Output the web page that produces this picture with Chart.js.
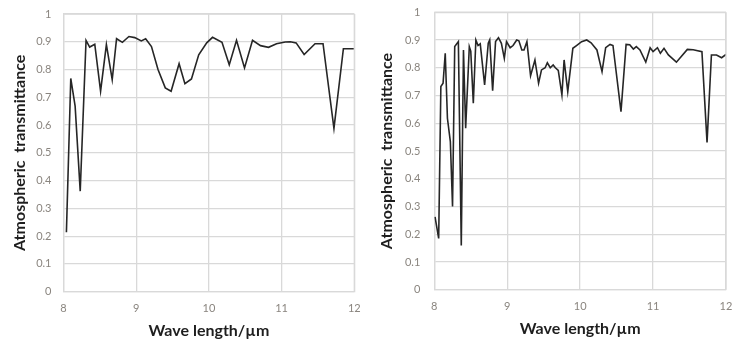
<!DOCTYPE html>
<html>
<head>
<meta charset="utf-8">
<script src="https://cdn.jsdelivr.net/npm/chart.js@4.4.0/dist/chart.umd.min.js"></script>
<style>
  html, body { margin: 0; padding: 0; background: #ffffff; }
  body { width: 734px; height: 345px; position: relative; overflow: hidden; }
  .box { position: absolute; top: 0; width: 367px; height: 345px; }
  #b1 { left: 0; }
  #b2 { left: 367px; }
</style>
</head>
<body>
<div class="box" id="b1"><canvas id="c1" width="367" height="345"></canvas></div>
<div class="box" id="b2"><canvas id="c2" width="367" height="345"></canvas></div>
<script>
// ---- data ----
const xTickLabels = ['8', '9', '10', '11', '12'];
const yTickLabels = ['0', '0.1', '0.2', '0.3', '0.4', '0.5', '0.6', '0.7', '0.8', '0.9', '1'];
const xTitle = 'Wave length/\u00B5m';
const yTitle = 'Atmospheric  transmittance';

// left panel
const wavelengthA = [8.04, 8.10, 8.16, 8.23, 8.31, 8.36, 8.43, 8.51, 8.59, 8.67, 8.73, 8.81, 8.90, 8.98, 9.07, 9.13, 9.21, 9.30, 9.40, 9.48, 9.59, 9.67, 9.76, 9.86, 9.97, 10.05, 10.18, 10.28, 10.38, 10.49, 10.60, 10.71, 10.82, 10.93, 11.05, 11.12, 11.20, 11.31, 11.46, 11.57, 11.72, 11.85, 12.0];
const transmittanceA = [0.214, 0.768, 0.668, 0.362, 0.905, 0.881, 0.891, 0.722, 0.890, 0.764, 0.911, 0.898, 0.919, 0.915, 0.903, 0.911, 0.883, 0.800, 0.734, 0.722, 0.821, 0.749, 0.766, 0.853, 0.896, 0.916, 0.898, 0.817, 0.905, 0.806, 0.905, 0.886, 0.880, 0.893, 0.899, 0.900, 0.896, 0.854, 0.893, 0.893, 0.588, 0.875, 0.875];

// right panel
const wavelengthB = [8.01, 8.06, 8.09, 8.12, 8.15, 8.18, 8.22, 8.25, 8.28, 8.33, 8.37, 8.40, 8.43, 8.48, 8.50, 8.535, 8.57, 8.60, 8.63, 8.69, 8.74, 8.76, 8.80, 8.84, 8.88, 8.92, 8.96, 8.99, 9.04, 9.08, 9.13, 9.16, 9.20, 9.23, 9.27, 9.32, 9.38, 9.43, 9.47, 9.52, 9.55, 9.59, 9.63, 9.66, 9.70, 9.75, 9.78, 9.83, 9.90, 9.95, 10.02, 10.09, 10.15, 10.23, 10.30, 10.35, 10.41, 10.45, 10.56, 10.63, 10.68, 10.73, 10.77, 10.82, 10.90, 10.96, 11.00, 11.06, 11.10, 11.15, 11.21, 11.32, 11.47, 11.55, 11.67, 11.74, 11.80, 11.87, 11.94, 12.0];
const transmittanceB = [0.263, 0.185, 0.732, 0.744, 0.852, 0.618, 0.534, 0.300, 0.876, 0.894, 0.160, 0.864, 0.582, 0.876, 0.860, 0.672, 0.900, 0.880, 0.886, 0.738, 0.888, 0.900, 0.717, 0.894, 0.908, 0.888, 0.834, 0.894, 0.872, 0.880, 0.900, 0.897, 0.864, 0.864, 0.894, 0.771, 0.828, 0.744, 0.792, 0.800, 0.818, 0.800, 0.810, 0.800, 0.790, 0.702, 0.828, 0.714, 0.870, 0.880, 0.894, 0.900, 0.890, 0.864, 0.786, 0.872, 0.884, 0.880, 0.642, 0.884, 0.883, 0.867, 0.876, 0.864, 0.820, 0.872, 0.858, 0.872, 0.852, 0.870, 0.846, 0.820, 0.866, 0.865, 0.858, 0.531, 0.846, 0.846, 0.836, 0.848];

// ---- styling ----
const GRID = '#d9d9d9';
const TICK_COLOR = '#8a857f';
const TITLE_COLOR = '#1e1e1e';
const LINE_COLOR = '#262626';

function makeChart(id, xs, ys, geom) {
  const pts = xs.map((x, i) => ({ x: x, y: ys[i] }));
  return new Chart(document.getElementById(id), {
    type: 'scatter',
    data: {
      datasets: [{
        data: pts,
        showLine: true,
        borderColor: LINE_COLOR,
        borderWidth: 1.6,
        pointRadius: 0,
        tension: 0,
        fill: false
      }]
    },
    options: {
      responsive: false,
      animation: false,
      devicePixelRatio: 1,
      layout: { padding: { left: 0, top: geom.top, right: geom.right, bottom: 0 } },
      plugins: { legend: { display: false }, tooltip: { enabled: false } },
      scales: {
        x: {
          type: 'linear',
          min: 8, max: 12,
          afterBuildTicks: (s) => { s.ticks = xTickLabels.map(v => ({ value: parseFloat(v) })); },
          ticks: {
            color: TICK_COLOR,
            font: { family: 'Lato', size: 11 },
            padding: geom.xTickPad,
            maxRotation: 0,
            callback: (v) => xTickLabels[xTickLabels.indexOf(String(v))] ?? ''
          },
          grid: { color: GRID, lineWidth: 1.3, drawTicks: false },
          border: { color: GRID, width: 1.3 },
          title: {
            display: true, text: xTitle, color: TITLE_COLOR,
            font: { family: 'Lato', size: 16, weight: 'bold' },
            padding: { top: 0, bottom: geom.xTitlePad }
          },
          afterFit: (s) => { s.height = geom.xHeight; s.paddingLeft = 0; s.paddingRight = 0; }
        },
        y: {
          min: 0, max: 1,
          afterBuildTicks: (s) => { s.ticks = yTickLabels.map(v => ({ value: parseFloat(v) })); },
          ticks: {
            color: TICK_COLOR,
            font: { family: 'Lato', size: 11 },
            padding: geom.yTickPad,
            callback: (v, i) => yTickLabels[i]
          },
          grid: { color: GRID, lineWidth: 1.3, drawTicks: false },
          border: { color: GRID, width: 1.3 },
          title: {
            display: true, text: yTitle, color: TITLE_COLOR,
            font: { family: 'Lato', size: 16, weight: 'bold' },
            padding: { top: geom.yTitlePad, bottom: 0 }
          },
          afterFit: (s) => { s.width = geom.yWidth; s.paddingTop = 0; s.paddingBottom = 0; }
        }
      }
    },
    plugins: [{
      id: 'frameRight',
      afterDraw(chart) {
        const a = chart.chartArea, c = chart.ctx;
        c.save();
        c.strokeStyle = GRID; c.lineWidth = 1.3;
        c.beginPath();
        c.moveTo(a.right, a.top); c.lineTo(a.right, a.bottom);
        c.moveTo(a.left, a.top); c.lineTo(a.right, a.top);
        c.stroke();
        c.restore();
      }
    }]
  });
}

makeChart('c1', wavelengthA, transmittanceA, { top: 14, right: 12.7, xHeight: 53.3, yWidth: 63.5, xTickPad: 10, yTickPad: 12, xTitlePad: 5, yTitlePad: 10 });
makeChart('c2', wavelengthB, transmittanceB, { top: 12.2, right: 8, xHeight: 55.2, yWidth: 67.3, xTickPad: 10, yTickPad: 14, xTitlePad: 7, yTitlePad: 10 });
</script>
</body>
</html>
